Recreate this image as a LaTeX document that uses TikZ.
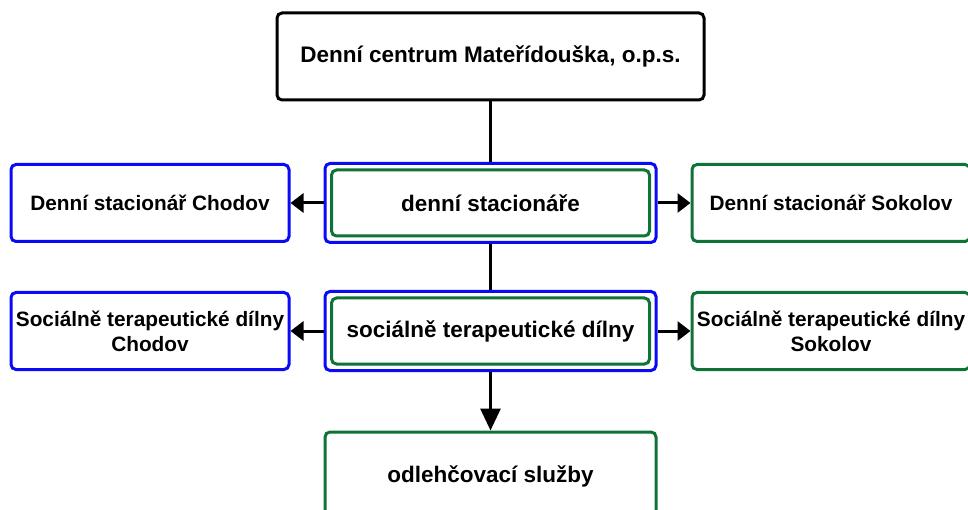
\documentclass[tikz,border=0pt]{standalone}
\usepackage{fontspec}
\setmainfont{Liberation Sans}
\usetikzlibrary{arrows.meta}
\definecolor{boxblue}{RGB}{10,10,245}
\definecolor{boxgreen}{RGB}{15,115,55}
\begin{document}
\begin{tikzpicture}[x=1pt, y=-1pt, line width=3pt,
	box/.style={draw, rounded corners=5pt, fill=white, align=center, inner sep=0pt, font=\bfseries\fontsize{22.5}{26}\selectfont},
	sidebox/.style={box, minimum width=278pt, minimum height=77pt, font=\bfseries\fontsize{20.8}{25}\selectfont},
	outerbox/.style={box, draw=boxblue, minimum width=331pt, minimum height=79pt},
	innerbox/.style={box, draw=boxgreen, minimum width=318pt, minimum height=66pt},
	harrow/.style={-{Triangle[length=13pt,width=19pt]}},
	varrow/.style={-{Triangle[length=22pt,width=20pt]}}]
	\useasboundingbox (0,0) rectangle (968,510);
	\node[box, minimum width=427pt, minimum height=87pt] (centrum) at (490.5,56.5) {Denní centrum Mateřídouška, o.p.s.};
	\node[outerbox] (stacO) at (490.5,203) {};
	\node[innerbox] (stac) at (stacO) {denní stacionáře};
	\node[sidebox, draw=boxblue]  (stacCh) at (150,203) {Denní stacionář Chodov};
	\node[sidebox, draw=boxgreen] (stacSo) at (831,203) {Denní stacionář Sokolov};
	\node[outerbox] (dilnyO) at (490.5,331) {};
	\node[innerbox] (dilny) at (dilnyO) {sociálně terapeutické dílny};
	\node[sidebox, draw=boxblue]  (dilnyCh) at (150,331) {Sociálně terapeutické dílny\\Chodov};
	\node[sidebox, draw=boxgreen] (dilnySo) at (831,331) {Sociálně terapeutické dílny\\Sokolov};
	\node[box, draw=boxgreen, minimum width=331pt, minimum height=88pt] (odlehc) at (490.5,476) {odlehčovací služby};
	\draw (centrum) -- (stacO);
	\draw (stacO) -- (dilnyO);
	\draw[harrow] (stacO) -- (stacCh);
	\draw[harrow] (stacO) -- (stacSo);
	\draw[harrow] (dilnyO) -- (dilnyCh);
	\draw[harrow] (dilnyO) -- (dilnySo);
	\draw[varrow] (dilnyO) -- (odlehc);
\end{tikzpicture}
\end{document}
